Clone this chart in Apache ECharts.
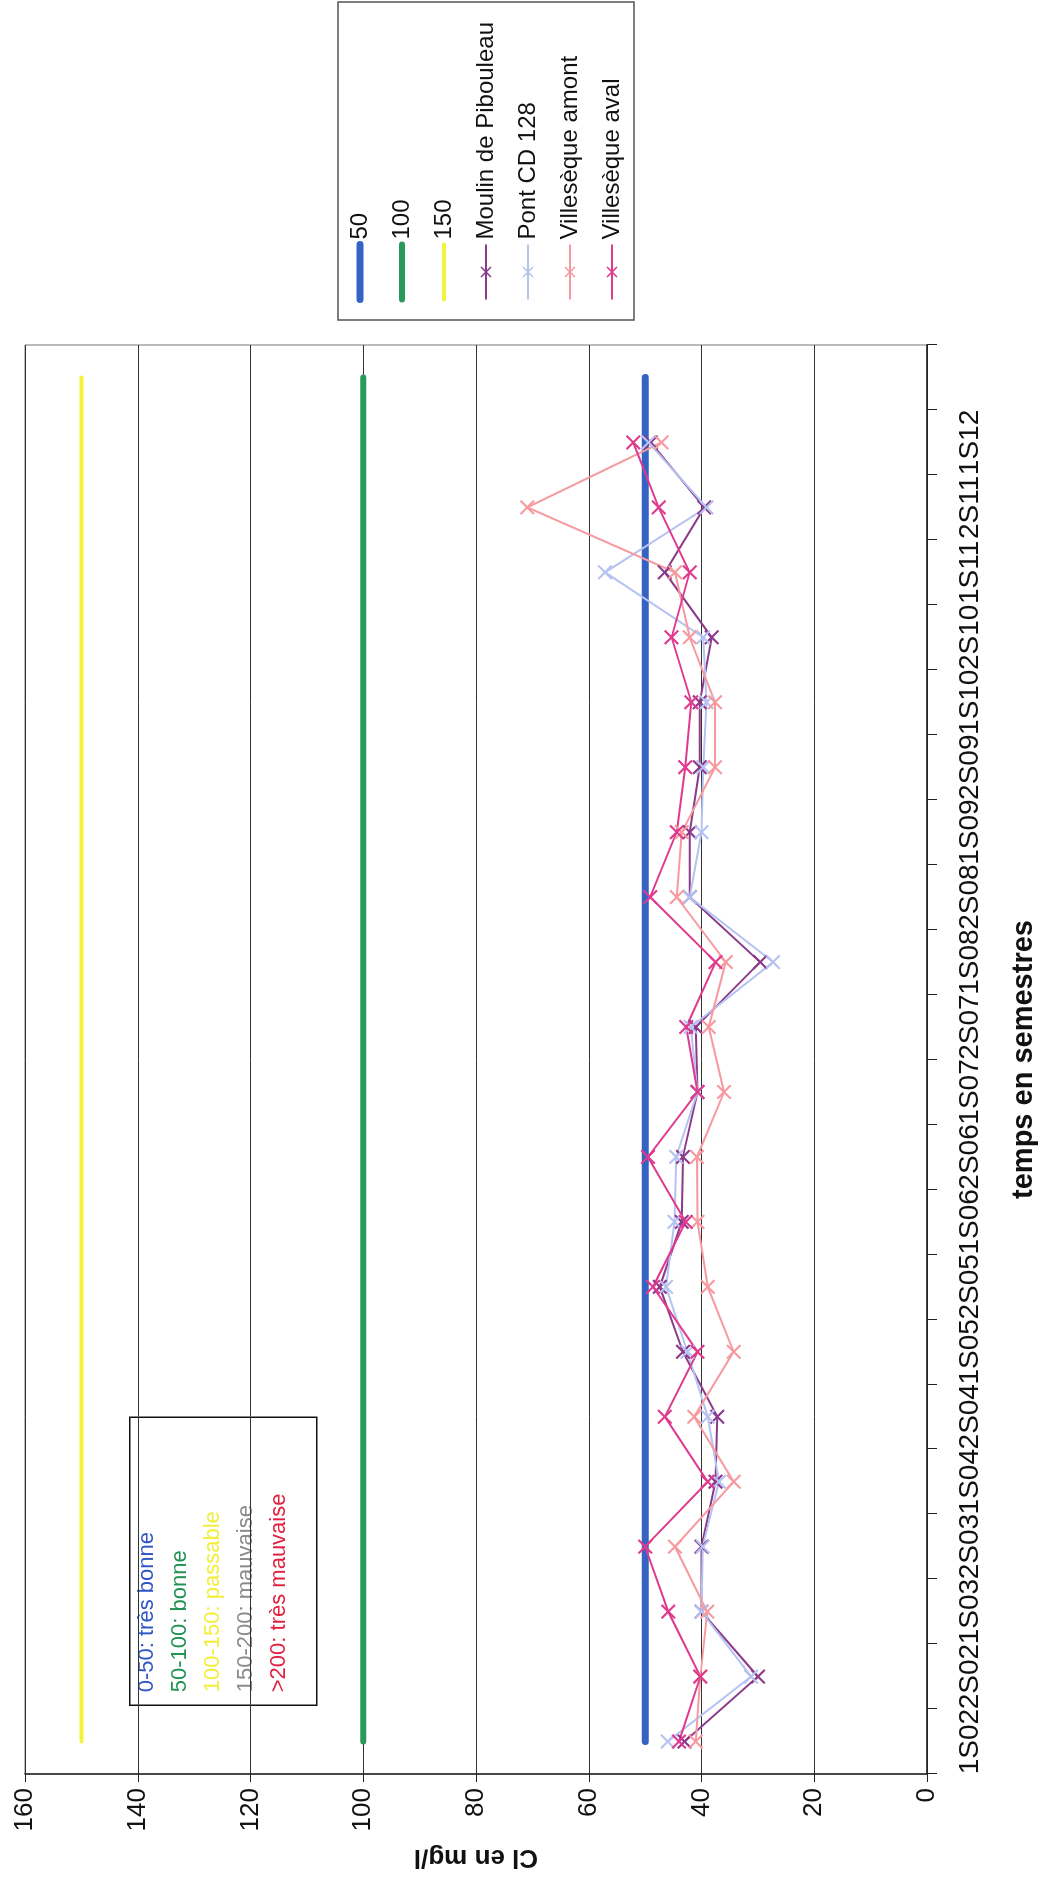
<!DOCTYPE html>
<html>
<head>
<meta charset="utf-8">
<script src="https://cdn.jsdelivr.net/npm/echarts@6/dist/echarts.min.js"></script>
<style>
  html, body { margin: 0; padding: 0; background: #fff; }
  body { width: 1043px; height: 1891px; overflow: hidden; position: relative; }
  /* the scan is a quarter turn off: draw the chart upright, then turn the box */
  #chart {
    position: absolute; left: 0; top: 0;
    width: 1891px; height: 1043px;
    transform-origin: 0 0;
    transform: translate(0, 1891px) rotate(-90deg);
  }
</style>
</head>
<body>
<div id="chart"></div>
<script>
// semestres (the last slot has no label, only the limit lines reach it)
const semestres = ['1S02', '2S02', '1S03', '2S03', '1S04', '2S04', '1S05', '2S05', '1S06', '2S06', '1S07',
  '2S07', '1S08', '2S08', '1S09', '2S09', '1S10', '2S10', '1S11', '2S11', '1S12', '']

// limites de classe
const seuil50 = [50, 50, 50, 50, 50, 50, 50, 50, 50, 50, 50, 50, 50, 50, 50, 50, 50, 50, 50, 50, 50, 50]
const seuil100 = [100, 100, 100, 100, 100, 100, 100, 100, 100, 100, 100, 100, 100, 100, 100, 100, 100, 100, 100, 100, 100, 100]
const seuil150 = [150, 150, 150, 150, 150, 150, 150, 150, 150, 150, 150, 150, 150, 150, 150, 150, 150, 150, 150, 150, 150, 150]

// Cl en mg/l par station
const moulinPibouleau = [43, 30, 40, 40, 37.5, 37.2, 43.3, 47.4, 43.5, 43.3, 40.7, 41, 29.6, 42.1, 42.1, 40.3, 40.3, 38.2, 46.5, 39.5, 49]
const pontCD128 = [46, 31.2, 40, 39.8, 36.9, 38.9, 42.5, 46.3, 44.8, 44.5, 40.7, 41.9, 27.3, 42.1, 40, 39.7, 39.1, 39.7, 57.1, 39.1, 49.4]
const villesequeAmont = [41, 40.2, 39, 44.7, 34.3, 41.3, 34.3, 38.9, 40.7, 40.8, 36, 38.7, 35.7, 44.4, 43.5, 37.6, 37.6, 42.1, 44.7, 70.9, 47.1]
const villesequeAval = [44, 40.2, 45.9, 50, 38.9, 46.5, 40.7, 48.6, 42.8, 49.5, 40.7, 42.7, 37.5, 49.1, 44.4, 42.9, 41.8, 45.3, 42.1, 47.6, 52.1]

// qualité: texte de la boîte
const classes = [
  { text: '0-50: très bonne', color: '#2f56c4' },
  { text: '50-100: bonne', color: '#1f9152' },
  { text: '100-150: passable', color: '#f2ee3a' },
  { text: '150-200: mauvaise', color: '#8a8a8a' },
  { text: '>200: très mauvaise', color: '#e0213f' }
]

const FONT = '"Liberation Sans", Arial, sans-serif'
// x-shaped marker, drawn filled
const CROSS = 'path://M0,1L1,0L10,9L9,10Z M9,0L10,1L1,10L0,9Z'

const seuilSerie = (name, data, color, width) => ({
  name,
  type: 'line',
  data,
  symbol: 'none',
  z: 1,
  lineStyle: { color, width, cap: 'round' },
  itemStyle: { color },
  emphasis: { disabled: true }
})

const stationSerie = (name, data, color) => ({
  name,
  type: 'line',
  data,
  symbol: CROSS,
  symbolSize: 15,
  z: 3,
  lineStyle: { color, width: 2 },
  itemStyle: { color },
  emphasis: { disabled: true }
})

// legend entries of the limit lines: thick line only, no dot
const seuilLegende = (name, width) => ({
  name,
  itemStyle: { opacity: 0 },
  lineStyle: { width, cap: 'round' }
})

const chart = echarts.init(document.getElementById('chart'), null, { renderer: 'canvas' })

chart.setOption({
  animation: false,
  backgroundColor: '#fff',
  textStyle: { fontFamily: FONT },
  grid: {
    left: 117,
    right: 345,
    top: 25,
    bottom: 98,
    show: true,
    borderColor: '#777',
    borderWidth: 1
  },
  legend: {
    orient: 'vertical',
    left: 1571,
    top: 338,
    padding: [8, 20, 8, 17],
    itemWidth: 55,
    itemHeight: 14,
    itemGap: 14,
    borderColor: '#555',
    borderWidth: 1.5,
    textStyle: { fontSize: 24, color: '#111', lineHeight: 28, fontFamily: FONT },
    data: [
      seuilLegende('50', 7),
      seuilLegende('100', 6),
      seuilLegende('150', 4),
      'Moulin de Pibouleau', 'Pont CD 128', 'Villesèque amont', 'Villesèque aval'
    ]
  },
  xAxis: {
    type: 'category',
    data: semestres,
    boundaryGap: true,
    name: 'temps en semestres',
    nameLocation: 'middle',
    nameGap: 82,
    nameTextStyle: { fontSize: 29, fontWeight: 'bold', color: '#111', fontFamily: FONT },
    axisLine: { lineStyle: { color: '#222', width: 1.5 } },
    axisTick: { show: true, length: 10, lineStyle: { color: '#222' } },
    axisLabel: { interval: 0, fontSize: 28, color: '#111', margin: 29, fontFamily: FONT }
  },
  yAxis: {
    type: 'value',
    min: 0,
    max: 160,
    interval: 20,
    name: 'Cl en mg/l',
    nameLocation: 'middle',
    nameRotate: 90,
    nameGap: 70,
    nameTextStyle: { fontSize: 26, fontWeight: 'bold', color: '#111', fontFamily: FONT },
    axisLine: { show: true, lineStyle: { color: '#222', width: 1.5 } },
    axisTick: { show: true, length: 8, lineStyle: { color: '#222' } },
    axisLabel: { fontSize: 26, color: '#111', margin: 14, fontFamily: FONT },
    splitLine: { lineStyle: { color: '#333', width: 1 } }
  },
  graphic: [{
    type: 'group',
    left: 185,
    top: 129,
    children: [
      {
        type: 'rect',
        shape: { x: 0, y: 0, width: 288, height: 187 },
        style: { fill: '#fff', stroke: '#111', lineWidth: 1.5 }
      },
      ...classes.map((c, i) => ({
        type: 'text',
        x: 13,
        y: 17 + i * 33,
        style: { text: c.text, fill: c.color, font: '22px ' + FONT, textVerticalAlign: 'middle' }
      }))
    ]
  }],
  series: [
    seuilSerie('50', seuil50, '#3563c4', 7),
    seuilSerie('100', seuil100, '#2a9a5c', 6),
    seuilSerie('150', seuil150, '#f4f23c', 4),
    stationSerie('Moulin de Pibouleau', moulinPibouleau, '#8c3a8a'),
    stationSerie('Pont CD 128', pontCD128, '#b6c3f2'),
    stationSerie('Villesèque amont', villesequeAmont, '#f79aa0'),
    stationSerie('Villesèque aval', villesequeAval, '#e03a8e')
  ]
})
</script>
</body>
</html>
